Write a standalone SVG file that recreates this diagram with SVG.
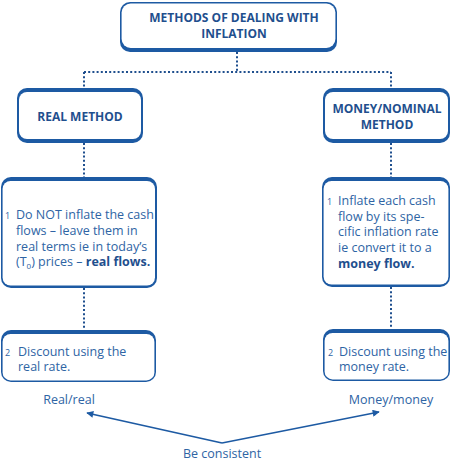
<svg xmlns="http://www.w3.org/2000/svg" width="451" height="461" viewBox="0 0 451 461">
<style>
.outer{fill:#1d5aa3}
.inner{fill:#ffffff}
.h{font-family:"Open Sans","Noto Sans",sans-serif;font-weight:bold;font-size:12px;fill:#1f4f8e;text-anchor:middle}
.t{font-family:"Open Sans","Noto Sans",sans-serif;font-size:12.5px;fill:#2e64a4}
.n{font-family:"Open Sans","Noto Sans",sans-serif;font-size:9px;fill:#2e64a4}
.b{font-weight:bold;fill:#1f4f8e}
.dot{fill:none;stroke:#1f4f8e;stroke-width:2;stroke-dasharray:2 2.2}
.arr{fill:none;stroke:#1d5aa3;stroke-width:1.6}
</style>
<defs>
<marker id="ah" viewBox="0 0 10 10" refX="9" refY="5" markerWidth="9" markerHeight="7" orient="auto" markerUnits="userSpaceOnUse">
<path d="M0,0 L10,5 L0,10 Z" fill="#1d5aa3"/>
</marker>
</defs>
<rect width="451" height="461" fill="#ffffff"/>
<g id="connectors">
<path class="dot" d="M237,52 V72 M84,72 H391 M84,72 V88 M391,72 V88"/>
<path class="dot" d="M84,143 V178 M391,143 V178"/>
<path class="dot" d="M84,288 V330 M391,287 V329"/>
<path class="arr" d="M222,443 L87,413" marker-end="url(#ah)"/>
<path class="arr" d="M222,443 L379,412" marker-end="url(#ah)"/>
</g>
<g id="top">
<rect class="outer" x="120" y="2" width="217" height="50" rx="10"/>
<rect class="inner" x="121.6" y="3.6" width="213.8" height="44.4" rx="9"/>
<text class="h" x="234" y="22">METHODS OF DEALING WITH</text>
<text class="h" x="234" y="38">INFLATION</text>
</g>
<g id="real">
<rect class="outer" x="17" y="88" width="126" height="55" rx="10"/>
<rect class="inner" x="19" y="92" width="122" height="47" rx="8"/>
<text class="h" x="80" y="121">REAL METHOD</text>
</g>
<g id="money">
<rect class="outer" x="323" y="88" width="127" height="55" rx="10"/>
<rect class="inner" x="325" y="92" width="123" height="47" rx="8"/>
<text class="h" x="387" y="113">MONEY/NOMINAL</text>
<text class="h" x="387" y="129">METHOD</text>
</g>
<g id="real1">
<rect class="outer" x="1" y="177" width="156" height="111" rx="10"/>
<rect class="inner" x="2.6" y="181" width="152.4" height="104.6" rx="8"/>
<text class="n" x="5" y="219">1</text>
<text class="t"><tspan x="16" y="219">Do NOT inflate the cash</tspan><tspan x="16" y="235">flows – leave them in</tspan><tspan x="16" y="251">real terms ie in today’s</tspan><tspan x="16" y="266">(T<tspan font-size="8" dy="3">0</tspan><tspan dy="-3">) prices – </tspan><tspan class="b">real flows.</tspan></tspan></text>
</g>
<g id="money1">
<rect class="outer" x="322" y="177" width="128" height="110" rx="10"/>
<rect class="inner" x="323.6" y="181" width="124.8" height="103.6" rx="8"/>
<text class="n" x="327" y="205">1</text>
<text class="t"><tspan x="338" y="205">Inflate each cash</tspan><tspan x="338" y="221">flow by its spe-</tspan><tspan x="338" y="236">cific inflation rate</tspan><tspan x="338" y="252">ie convert it to a</tspan><tspan x="338" y="268" class="b">money flow.</tspan></text>
</g>
<g id="real2">
<rect class="outer" x="1" y="330" width="155" height="52" rx="10"/>
<rect class="inner" x="2.6" y="334" width="151.8" height="46.4" rx="8"/>
<text class="n" x="5" y="356">2</text>
<text class="t"><tspan x="18" y="356">Discount using the</tspan><tspan x="18" y="371">real rate.</tspan></text>
</g>
<g id="money2">
<rect class="outer" x="323" y="329" width="127" height="52" rx="10"/>
<rect class="inner" x="324.6" y="333" width="123.8" height="46.4" rx="8"/>
<text class="n" x="328" y="356">2</text>
<text class="t"><tspan x="339" y="356">Discount using the</tspan><tspan x="339" y="371">money rate.</tspan></text>
</g>
<g id="labels">
<text class="t" x="69" y="404" text-anchor="middle">Real/real</text>
<text class="t" x="391" y="404" text-anchor="middle">Money/money</text>
<text class="t" x="222" y="458" text-anchor="middle">Be consistent</text>
</g>
</svg>
